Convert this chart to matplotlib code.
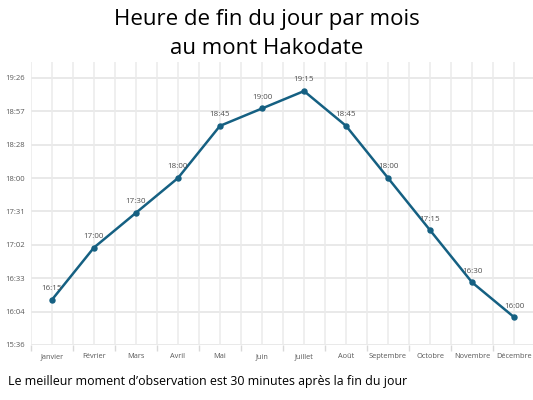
import numpy as np
import matplotlib
matplotlib.use("Agg")
import matplotlib.pyplot as plt
from matplotlib.ticker import FixedLocator

plt.rcParams['font.family'] = ['Open Sans', 'DejaVu Sans']

# donnees : heure de fin du jour par mois
mois = ['Janvier', 'Février', 'Mars', 'Avril', 'Mai', 'Juin',
        'Juillet', 'Août', 'Septembre', 'Octobre', 'Novembre', 'Décembre']
heures = ['16:15', '17:00', '17:30', '18:00', '18:45', '19:00',
          '19:15', '18:45', '18:00', '17:15', '16:30', '16:00']

# graduations de l'axe y (fraction de journee, comme dans Excel)
y_ticks = [0.65, 0.67, 0.69, 0.71, 0.73, 0.75, 0.77, 0.79, 0.81]


def to_day(h):
    hh, mm = h.split(':')
    return (int(hh) * 60 + int(mm)) / 1440.0


def fmt_day(v):
    m = int(round(v * 1440, 6))
    return '%d:%02d' % (m // 60, m % 60)


valeurs = [to_day(h) for h in heures]
x = np.arange(len(mois))

fig = plt.figure(figsize=(5.33, 4.0), dpi=100)
ax = fig.add_axes([0.058, 0.1375, 0.942, 0.7075])

couleur = '#156082'
ax.plot(x, valeurs, color=couleur, lw=1.8, marker='o', ms=3.6, zorder=3)

for xi, v, h in zip(x, valeurs, heures):
    ax.annotate(h, (xi, v), xytext=(0, 5.5), textcoords='offset points',
                ha='center', va='bottom', fontsize=5.8, color='#505050')

ax.set_xlim(-0.5, 11.45)
ax.set_ylim(0.65, 0.8195)

ax.set_xticks(x)
ax.set_xticklabels(mois, fontsize=5.3, color='#595959')
ax.xaxis.set_minor_locator(FixedLocator(np.arange(-0.5, 11.6, 1.0)))
ax.tick_params(axis='x', which='major', length=0, pad=6)
ax.tick_params(axis='x', which='minor', length=4, color='#d9d9d9', width=1)

ax.set_yticks(y_ticks)
ax.set_yticklabels([fmt_day(v) for v in y_ticks], fontsize=5.5, color='#595959')
ax.tick_params(axis='y', length=0, pad=4)

# grille : horizontale aux graduations, verticale tous les demi-mois
for v in y_ticks:
    ax.axhline(v, color='#e3e3e3', lw=1.1, zorder=1)
for gx in np.arange(-0.5, 11.1, 0.5):
    ax.axvline(gx, color='#ebebeb', lw=1.1, zorder=1)

for s in ax.spines.values():
    s.set_visible(False)

fig.text(0.5, 0.952, 'Heure de fin du jour par mois', ha='center', va='center',
         fontsize=16, color='black')
fig.text(0.5, 0.878, 'au mont Hakodate', ha='center', va='center',
         fontsize=16, color='black')
fig.text(0.015, 0.047, "Le meilleur moment d’observation est 30 minutes après la fin du jour",
         ha='left', va='center', fontsize=8.9, color='black')

fig.savefig('out.png', dpi=100)
